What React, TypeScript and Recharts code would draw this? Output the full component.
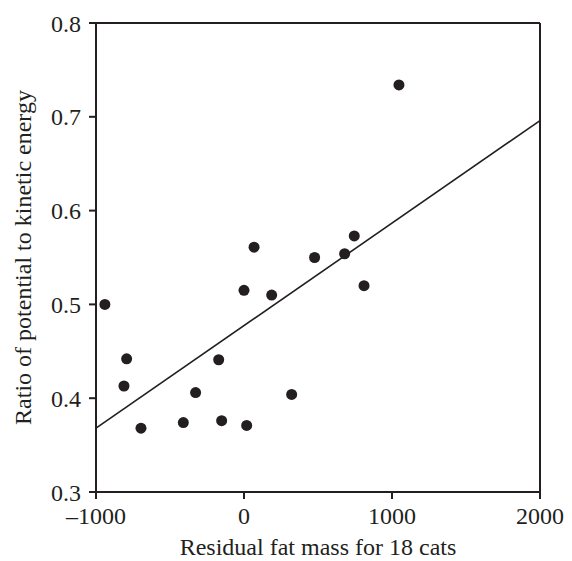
import { ScatterChart, Scatter, XAxis, YAxis, ReferenceLine } from 'recharts';

const fatMass = [-940, -793, -811, -696, -410, -327, -171, -151, 18, 0, 187, 322, 68, 477, 680, 745, 811, 1047];
const energyRatio = [0.5, 0.442, 0.413, 0.368, 0.374, 0.406, 0.441, 0.376, 0.371, 0.515, 0.51, 0.404, 0.561, 0.55, 0.554, 0.573, 0.52, 0.734];

const fitX = [-1000, 2000];
const fitY = [0.368, 0.696];

const xTicks = [-1000, 0, 1000, 2000];
const yTicks = [0.3, 0.4, 0.5, 0.6, 0.7, 0.8];

const ink = '#231f20';
const font = '"Liberation Serif", "Times New Roman", serif';

const points = fatMass.map((x, i) => ({ x, y: energyRatio[i] }));
const fit = fitX.map((x, i) => ({ x, y: fitY[i] }));

function Dot(props: any) {
  const { cx, cy } = props;
  return <circle cx={cx} cy={cy} r={5.5} fill={ink} />;
}

export default function App() {
  return (
    <ScatterChart width={560} height={553} margin={{ top: 15, right: 28, bottom: 0, left: 0 }}>
      <XAxis
        type="number"
        dataKey="x"
        domain={[-1000, 2000]}
        ticks={xTicks}
        tickFormatter={(v: number) => (v < 0 ? '\u2013' + Math.abs(v) : String(v))}
        stroke={ink}
        strokeWidth={2}
        tickSize={7}
        tickMargin={8}
        tick={{ fill: ink, fontSize: 24, fontFamily: font }}
        height={69}
        label={{ value: 'Residual fat mass for 18 cats', position: 'insideBottom', offset: 6, fill: ink, fontSize: 24, fontFamily: font }}
      />
      <YAxis
        type="number"
        dataKey="y"
        domain={[0.3, 0.8]}
        ticks={yTicks}
        tickFormatter={(v: number) => v.toFixed(1)}
        stroke={ink}
        strokeWidth={2}
        tickSize={7}
        tickMargin={8}
        tick={{ fill: ink, fontSize: 24, fontFamily: font }}
        width={88}
        label={{ value: 'Ratio of potential to kinetic energy', angle: -90, position: 'insideLeft', offset: 14, style: { textAnchor: 'middle' }, fill: ink, fontSize: 24, fontFamily: font }}
      />
      <ReferenceLine y={0.8} stroke={ink} strokeWidth={2} />
      <ReferenceLine x={2000} stroke={ink} strokeWidth={2} />
      <Scatter data={fit} line={{ stroke: ink, strokeWidth: 1.6 }} shape={() => null} isAnimationActive={false} />
      <Scatter data={points} shape={Dot} isAnimationActive={false} />
    </ScatterChart>
  );
}
